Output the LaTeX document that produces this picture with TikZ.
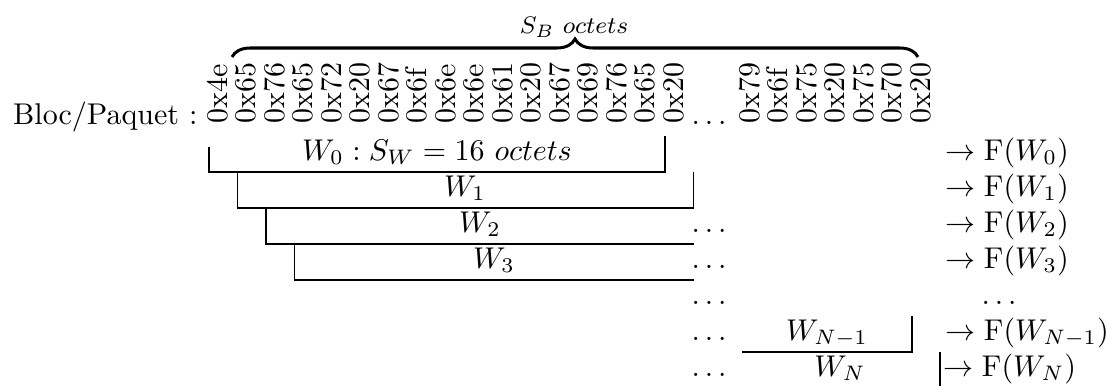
\documentclass[tikz,border=0pt]{standalone}
\usetikzlibrary{decorations.pathreplacing}
\begin{document}
\begin{tikzpicture}[x=0.3333pt,y=-0.3333pt,
  byte/.style={rotate=90,anchor=base west,inner sep=0pt},
  cell/.style={anchor=base,inner sep=0pt},
  result/.style={anchor=base west,inner sep=0pt},
  rule/.style={line width=0.4pt},
  bracestyle/.style={decorate,decoration={brace,amplitude=6pt},line width=1pt}]
\useasboundingbox (0,0) rectangle (1107,385);

% header row: the block as a sequence of bytes
\node[anchor=base east,inner sep=0pt] (bloc) at (198,124) {Bloc/Paquet :};
\foreach \b [count=\i from 0] in {4e,65,76,65,72,20,67,6f,6e,6e,61,20,67,69,76,65,20}
  \node[byte] (h\i) at ({209+28.5*\i+18},124) {0x\b};
\node[cell] (hdots) at (709,124) {$\ldots$};
\foreach \b [count=\j from 0] in {79,6f,75,20,75,70,20}
  \node[byte] (t\j) at ({741+28.5*\j+18},124) {0x\b};

% brace over the whole block
\coordinate (bl) at (232,57);
\coordinate (br) at (918,57);
\draw[bracestyle] (bl) -- (br);
\node[cell,font=\footnotesize] (sb) at (574,33) {$S_B\ octets$};

% sliding windows
\draw[rule] (209,147) -- (209,172) -- (665,172) -- (665,136);
\node[cell] (w0) at (437,160) {$W_0 : S_W = 16\ octets$};
\draw[rule] (237.5,172) -- (237.5,208) -- (693.5,208) -- (693.5,172);
\node[cell] (w1) at (465,196) {$W_1$};
\draw[rule] (266,208) -- (266,244) -- (693.5,244);
\node[cell] (w2) at (480,232) {$W_2$};
\draw[rule] (294.5,244) -- (294.5,280) -- (693.5,280);
\node[cell] (w3) at (494,268) {$W_3$};
\draw[rule] (742,352) -- (912,352) -- (912,316);
\node[cell] (wn1) at (827,340) {$W_{N-1}$};
\draw[rule] (940,352) -- (940,390);
\node[cell] (wn) at (840,376) {$W_N$};

% continuation dots
\node[cell] (d2) at (709,232) {$\ldots$};
\node[cell] (d3) at (709,268) {$\ldots$};
\node[cell] (d4) at (709,304) {$\ldots$};
\node[cell] (d5) at (709,340) {$\ldots$};
\node[cell] (d6) at (709,376) {$\ldots$};

% fingerprints of each window
\node[result] (f0) at (945,160) {$\rightarrow \mathrm{F}(W_0)$};
\node[result] (f1) at (945,196) {$\rightarrow \mathrm{F}(W_1)$};
\node[result] (f2) at (945,232) {$\rightarrow \mathrm{F}(W_2)$};
\node[result] (f3) at (945,268) {$\rightarrow \mathrm{F}(W_3)$};
\node[cell] (fd) at (999,304) {$\ldots$};
\node[result] (fn1) at (945,340) {$\rightarrow \mathrm{F}(W_{N-1})$};
\node[result] (fn) at (943,376) {$\rightarrow \mathrm{F}(W_N)$};
\end{tikzpicture}
\end{document}
